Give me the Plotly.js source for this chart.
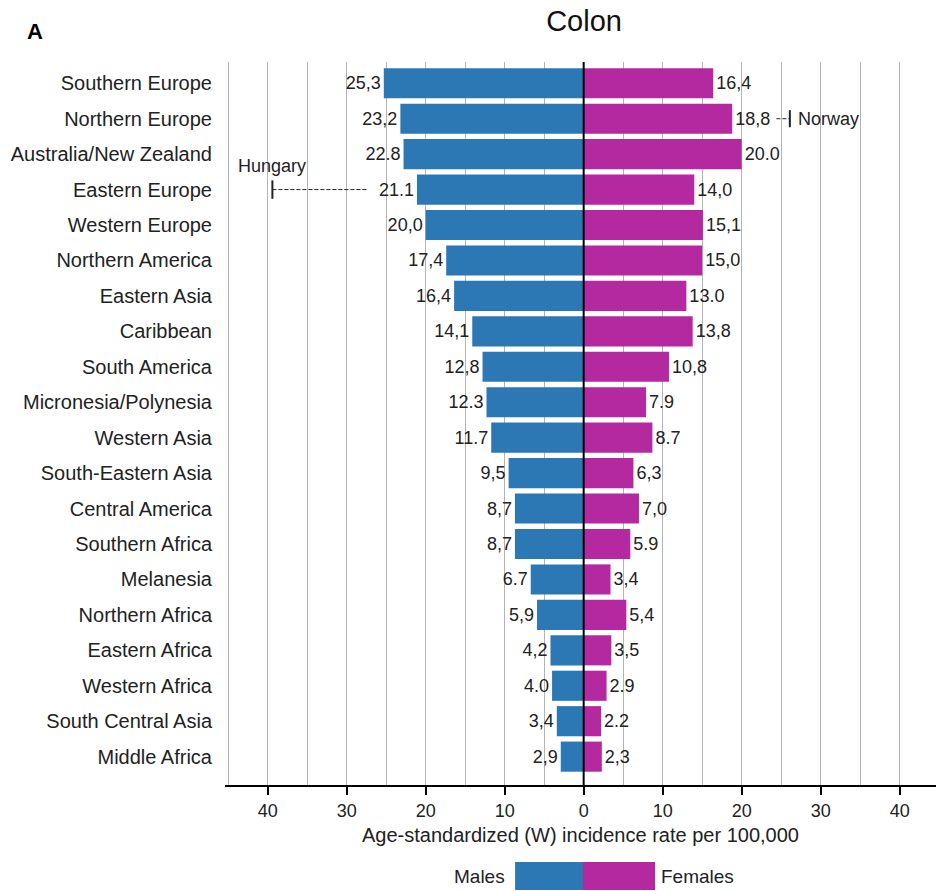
<!DOCTYPE html>
<html>
<head>
<meta charset="utf-8">
<script src="https://cdn.plot.ly/plotly-3.0.1.min.js"></script>
<style>
  html, body { margin: 0; padding: 0; background: #fff; }
  #chart { width: 936px; height: 891px; }
</style>
</head>
<body>
<div id="chart"></div>
<script>
// Colon cancer incidence by world region, males vs females
const regions = [
  "Southern Europe", "Northern Europe", "Australia/New Zealand", "Eastern Europe",
  "Western Europe", "Northern America", "Eastern Asia", "Caribbean", "South America",
  "Micronesia/Polynesia", "Western Asia", "South-Eastern Asia", "Central America",
  "Southern Africa", "Melanesia", "Northern Africa", "Eastern Africa", "Western Africa",
  "South Central Asia", "Middle Africa"
];
const males = [25.3, 23.2, 22.8, 21.1, 20.0, 17.4, 16.4, 14.1, 12.8, 12.3, 11.7, 9.5, 8.7, 8.7, 6.7, 5.9, 4.2, 4.0, 3.4, 2.9];
const females = [16.4, 18.8, 20.0, 14.0, 15.1, 15.0, 13.0, 13.8, 10.8, 7.9, 8.7, 6.3, 7.0, 5.9, 3.4, 5.4, 3.5, 2.9, 2.2, 2.3];
const maleLabels = ["25,3", "23,2", "22.8", "21.1", "20,0", "17,4", "16,4", "14,1", "12,8", "12.3", "11.7", "9,5", "8,7", "8,7", "6.7", "5,9", "4,2", "4.0", "3,4", "2,9"];
const femaleLabels = ["16,4", "18,8", "20.0", "14,0", "15,1", "15,0", "13.0", "13,8", "10,8", "7.9", "8.7", "6,3", "7,0", "5.9", "3,4", "5,4", "3,5", "2.9", "2.2", "2,3"];
const tickValues = [-40, -30, -20, -10, 0, 10, 20, 30, 40];
const tickLabels = ["40", "30", "20", "10", "0", "10", "20", "30", "40"];

// Highest-country markers within a region
const peakCountries = ["Hungary", "Norway"];
const peakRegions = ["Eastern Europe", "Northern Europe"];
const peakValues = [-39.4, 26.1];   // Hungary (males, left), Norway (females, right)

const BLUE = "rgb(44,120,180)";
const MAGENTA = "rgb(181,41,160)";
const TXT = "#222";
const FONT = "Liberation Sans, Arial, sans-serif";

const traces = [
  {
    type: "bar", orientation: "h", name: "Males",
    y: regions, x: males.map(v => -v),
    marker: { color: BLUE, line: { width: 0 } },
    text: maleLabels, textposition: "outside", cliponaxis: false,
    textfont: { family: FONT, size: 18, color: TXT },
    hoverinfo: "skip"
  },
  {
    type: "bar", orientation: "h", name: "Females",
    y: regions, x: females,
    marker: { color: MAGENTA, line: { width: 0 } },
    text: femaleLabels, textposition: "outside", cliponaxis: false,
    textfont: { family: FONT, size: 18, color: TXT },
    hoverinfo: "skip"
  }
];

const hIdx = regions.indexOf(peakRegions[0]);
const nIdx = regions.indexOf(peakRegions[1]);

const shapes = [
  // zero line over the bars
  { type: "line", xref: "x", yref: "paper", x0: 0, x1: 0, y0: 0, y1: 1, line: { color: "#000", width: 2 } },
  // Hungary marker
  { type: "line", xref: "x", yref: "y", x0: peakValues[0], x1: -27.3, y0: hIdx, y1: hIdx, line: { color: "#222", width: 1, dash: "4px,2px" } },
  { type: "line", xref: "x", yref: "y", x0: peakValues[0], x1: peakValues[0], y0: hIdx - 0.26, y1: hIdx + 0.26, line: { color: "#222", width: 2 } },
  // Norway marker
  { type: "line", xref: "x", yref: "y", x0: 24.4, x1: peakValues[1], y0: nIdx, y1: nIdx, line: { color: "#222", width: 1, dash: "4px,2px" } },
  { type: "line", xref: "x", yref: "y", x0: peakValues[1], x1: peakValues[1], y0: nIdx - 0.24, y1: nIdx + 0.24, line: { color: "#222", width: 2 } },
  // legend swatches
  { type: "rect", xref: "paper", yref: "paper", x0: 0.408, x1: 0.5035, y0: -0.1065, y1: -0.1452, fillcolor: BLUE, line: { width: 0 } },
  { type: "rect", xref: "paper", yref: "paper", x0: 0.5035, x1: 0.6048, y0: -0.1065, y1: -0.1452, fillcolor: MAGENTA, line: { width: 0 } }
];

const annotations = [
  { text: "<b>A</b>", xref: "paper", yref: "paper", x: -0.267, y: 1.0415, xanchor: "center", yanchor: "middle", showarrow: false, font: { family: FONT, size: 22, color: "#000" } },
  { text: peakCountries[0], xref: "x", yref: "y", x: peakValues[0], y: hIdx - 0.66, xanchor: "center", yanchor: "middle", showarrow: false, font: { family: FONT, size: 18, color: TXT } },
  { text: peakCountries[1], xref: "x", yref: "y", x: peakValues[1] + 0.8, y: nIdx, xanchor: "left", yanchor: "middle", showarrow: false, font: { family: FONT, size: 18, color: TXT } },
  { text: "Males", xref: "paper", yref: "paper", x: 0.396, y: -0.126, xanchor: "right", yanchor: "middle", showarrow: false, font: { family: FONT, size: 19, color: TXT } },
  { text: "Females", xref: "paper", yref: "paper", x: 0.611, y: -0.126, xanchor: "left", yanchor: "middle", showarrow: false, font: { family: FONT, size: 19, color: TXT } }
];

const layout = {
  width: 936, height: 891,
  margin: { l: 225, r: 0, t: 62, b: 106 },
  paper_bgcolor: "#fff", plot_bgcolor: "#fff",
  barmode: "relative", bargap: 0.15,
  showlegend: false,
  font: { family: FONT, color: TXT },
  title: {
    text: "Colon", xref: "container", yref: "container",
    x: 0.624, y: 0.977, xanchor: "center", yanchor: "middle",
    font: { family: FONT, size: 29, color: "#111" }
  },
  xaxis: {
    range: [-45.4, 44.6],
    tickvals: tickValues, ticktext: tickLabels,
    ticks: "outside", ticklen: 8, tickwidth: 2, tickcolor: "#000",
    showgrid: true, gridcolor: "#b4b4b4", gridwidth: 1,
    minor: { dtick: 5, tick0: 0, showgrid: true, gridcolor: "#b4b4b4", gridwidth: 1, ticks: "" },
    zeroline: false,
    showline: true, linecolor: "#000", linewidth: 2,
    tickfont: { family: FONT, size: 18, color: TXT },
    title: { text: "Age-standardized (W) incidence rate per 100,000", standoff: 8, font: { family: FONT, size: 20, color: TXT } },
    fixedrange: true
  },
  yaxis: {
    type: "category",
    categoryorder: "array", categoryarray: regions,
    range: [19.8, -0.6],
    showgrid: false, zeroline: false, showline: false,
    ticks: "", ticklabelstandoff: 12,
    tickfont: { family: FONT, size: 20, color: TXT },
    fixedrange: true
  },
  shapes: shapes,
  annotations: annotations
};

Plotly.newPlot("chart", traces, layout, { staticPlot: true, displayModeBar: false });
</script>
</body>
</html>
